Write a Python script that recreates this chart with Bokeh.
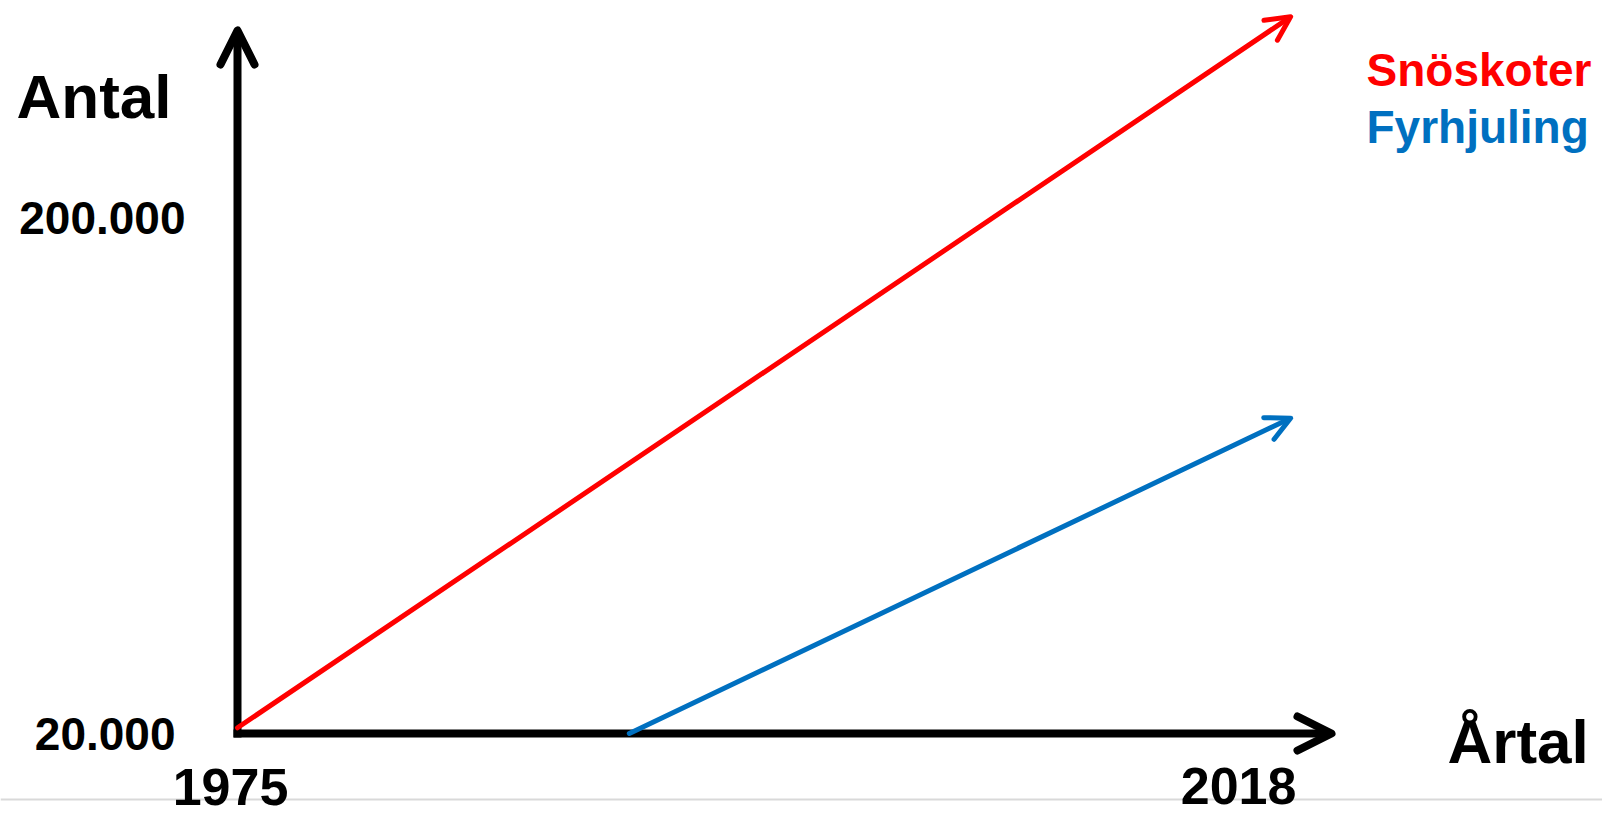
from bokeh.plotting import figure
from bokeh.models import Range1d, Arrow, OpenHead, ColumnDataSource, Span
from bokeh.core.properties import value
from bokeh.embed import file_html
from bokeh.resources import INLINE

# ---- data (conceptual chart values) ----
series_names = ["Snöskoter", "Fyrhjuling"]
series_colors = ["#FF0000", "#0070C0"]
snow_years = [1975, 2018]
snow_antal = [22000, 270000]
atv_years = [1991, 2018]
atv_antal = [20000, 130000]
x_ticks = [1975, 2018]
x_tick_labels = ["1975", "2018"]
y_ticks = [20000, 200000]
y_tick_labels = ["20.000", "200.000"]

# ---- layout ----
W, H = 1602, 816
PX_PER_YEAR = 24.49
PX_PER_UNIT = 516 / 180000
X0 = 1975 - 237 / PX_PER_YEAR
X1 = X0 + W / PX_PER_YEAR
Y1 = 20000 + 733 / PX_PER_UNIT
Y0 = Y1 - H / PX_PER_UNIT
FONT = value("Liberation Sans")


def dx(px):
    return X0 + px / W * (X1 - X0)


def dy(py):
    return Y1 - py / H * (Y1 - Y0)


p = figure(width=W, height=H, output_backend="svg", toolbar_location=None,
           x_range=Range1d(X0, X1), y_range=Range1d(Y0, Y1),
           x_axis_location=None, y_axis_location=None,
           min_border=0, background_fill_color="white", border_fill_color="white")
p.grid.visible = False
p.outline_line_color = None

# thin grey separator near the bottom
p.add_layout(Span(location=dy(799), dimension="width", line_color="#D9D9D9",
                  line_width=2, level="underlay"))

# axes drawn as arrows
AX_W = 8
p.add_layout(Arrow(x_start=x_ticks[0], y_start=dy(737), x_end=x_ticks[0], y_end=dy(30),
                   line_width=AX_W, line_color="black",
                   end=OpenHead(size=34, line_width=AX_W, line_color="black",
                                line_cap="round", line_join="round")))
p.add_layout(Arrow(x_start=dx(233), y_start=y_ticks[0], x_end=dx(1331), y_end=y_ticks[0],
                   line_width=AX_W, line_color="black",
                   end=OpenHead(size=34, line_width=AX_W, line_color="black",
                                line_cap="round", line_join="round")))

# series arrows
for xs, ys, col in [(snow_years, snow_antal, series_colors[0]),
                    (atv_years, atv_antal, series_colors[1])]:
    src = ColumnDataSource(dict(x0=[xs[0]], y0=[ys[0]], x1=[xs[-1]], y1=[ys[-1]]))
    p.add_layout(Arrow(x_start="x0", y_start="y0", x_end="x1", y_end="y1", source=src,
                       line_width=5, line_color=col, line_cap="round",
                       end=OpenHead(size=24, line_width=5, line_color=col,
                                    line_cap="round", line_join="round")))

# y tick labels
p.text(x=[x_ticks[0]] * 2, y=y_ticks, text=y_tick_labels, x_offset=[-62, -52],
       text_align="right", text_baseline="middle", text_font=FONT,
       text_font_style="bold", text_font_size="46px", text_color="black")

# x tick labels
p.text(x=x_ticks, y=[dy(786), dy(785)], text=x_tick_labels, x_offset=[-7, -52],
       text_align="center", text_baseline="middle", text_font=FONT,
       text_font_style="bold", text_font_size="52px", text_color="black")

# axis titles
p.text(x=[dx(16), dx(1447)], y=[dy(96), dy(741)], text=["Antal", "Årtal"],
       text_align="left", text_baseline="middle", text_font=FONT,
       text_font_style="bold", text_font_size="62px", text_color="black")

# legend texts
p.text(x=[dx(1366), dx(1366)], y=[dy(69), dy(126)], text=series_names,
       text_color=series_colors, text_align="left", text_baseline="middle",
       text_font=FONT, text_font_style="bold", text_font_size="46px")

open("out.html", "w").write(file_html(p, INLINE))
